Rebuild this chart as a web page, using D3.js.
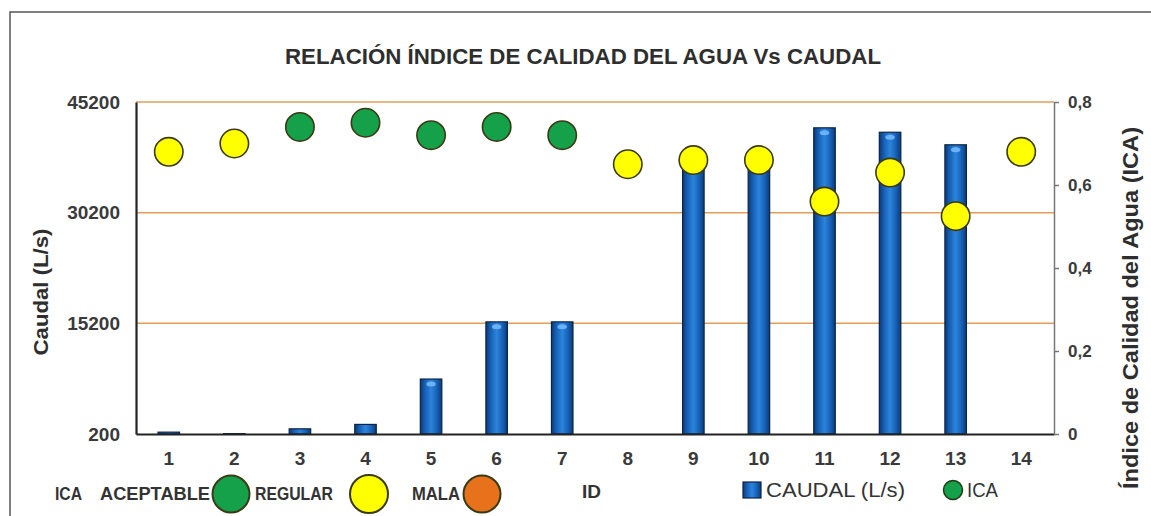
<!DOCTYPE html>
<html><head><meta charset="utf-8">
<script src="https://cdn.jsdelivr.net/npm/d3@7"></script>
<style>
body{margin:0;background:#fff}
svg{display:block}
text{font-family:"Liberation Sans",Arial,sans-serif}
</style>
</head><body><svg id="c" width="1151" height="516"></svg>
<script>
// ---- data ----
const ids = ["1","2","3","4","5","6","7","8","9","10","11","12","13","14"];
const caudal = [450, 250, 900, 1500, 7650, 15400, 15400, 200, 37000, 37000, 41700, 41100, 39400, 200];
const ica = [0.68, 0.70, 0.74, 0.75, 0.72, 0.74, 0.72, 0.65, 0.66, 0.66, 0.56, 0.63, 0.525, 0.68];
const icaClass = ["REGULAR","REGULAR","ACEPTABLE","ACEPTABLE","ACEPTABLE","ACEPTABLE","ACEPTABLE","REGULAR","REGULAR","REGULAR","REGULAR","REGULAR","REGULAR","REGULAR"];
const leftTicks = [200, 15200, 30200, 45200];
const rightTicks = [0, 0.2, 0.4, 0.6, 0.8];
const classNames = ["ACEPTABLE","REGULAR","MALA"];
const titleText = "RELACIÓN ÍNDICE DE CALIDAD DEL AGUA Vs CAUDAL";

// ---- styles ----
const classColor = d3.scaleOrdinal().domain(classNames).range(["#15a04a","#ffff00","#e8721c"]);
const W = 1151, H = 516;
const L = 136, R = 1054, T = 102, B = 434;

const svg = d3.select("#c");
const defs = svg.append("defs");
const g1 = defs.append("linearGradient").attr("id","barGrad").attr("x1","0").attr("x2","1").attr("y1","0").attr("y2","0");
[["0%","#0b3a78"],["22%","#1760b5"],["50%","#2b84dc"],["78%","#1760b5"],["100%","#0b3a78"]]
  .forEach(s => g1.append("stop").attr("offset", s[0]).attr("stop-color", s[1]));

// border
svg.append("path").attr("d", `M10,${H+5}V12H${W+5}`).attr("fill","none").attr("stroke","#555").attr("stroke-width",1.5);

// title
svg.append("text").attr("x", 285).attr("y", 64).attr("font-size", 22).attr("font-weight","bold")
  .attr("fill","#2e2e2e").attr("textLength", 596).attr("lengthAdjust","spacingAndGlyphs").text(titleText);

// scales
const x = d3.scaleBand().domain(ids).range([L, R]).paddingInner(0.672).paddingOuter(0.336);
const yL = d3.scaleLinear().domain([200, 45200]).range([B, T]);
const yR = d3.scaleLinear().domain([0, 0.8]).range([B, T]);

// gridlines
svg.append("g").selectAll("line").data(leftTicks.filter(d => d > 200)).join("line")
  .attr("x1", L).attr("x2", R).attr("y1", d => yL(d)).attr("y2", d => yL(d))
  .attr("stroke", "#e29d58").attr("stroke-width", 1.5);

// bars
const data = ids.map((id, i) => ({id, q: caudal[i], v: ica[i], c: icaClass[i]}));
const bars = svg.append("g");
bars.selectAll("rect").data(data).join("rect")
  .attr("x", d => x(d.id)).attr("width", x.bandwidth())
  .attr("y", d => yL(d.q)).attr("height", d => B - yL(d.q))
  .attr("fill", "url(#barGrad)").attr("stroke", "#0a2548").attr("stroke-width", 1.2);
bars.selectAll("ellipse").data(data.filter(d => B - yL(d.q) > 12)).join("ellipse")
  .attr("cx", d => x(d.id) + x.bandwidth()/2).attr("cy", d => yL(d.q) + 5)
  .attr("rx", x.bandwidth()*0.22).attr("ry", 2.5).attr("fill", "#7cc0ff").attr("opacity", 0.8);

// left axis
const axL = svg.append("g").attr("transform", `translate(${L},0)`)
  .call(d3.axisLeft(yL).tickValues(leftTicks).tickSize(0).tickPadding(16).tickFormat(d3.format("d")));
axL.select(".domain").attr("stroke", "#222").attr("stroke-width", 2.2);
axL.selectAll("text").attr("font-size", 19).attr("font-weight", "bold").attr("fill", "#3a3a3a")
  .attr("font-family", '"Liberation Sans",Arial,sans-serif');

// bottom axis
const axB = svg.append("g").attr("transform", `translate(0,${B})`)
  .call(d3.axisBottom(x).tickSize(0).tickPadding(18));
axB.select(".domain").attr("stroke", "#222").attr("stroke-width", 2.2);
axB.selectAll("text").attr("font-size", 19).attr("font-weight", "bold").attr("fill", "#3a3a3a")
  .attr("font-family", '"Liberation Sans",Arial,sans-serif');

// right axis
const axR = svg.append("g").attr("transform", `translate(${R},0)`)
  .call(d3.axisRight(yR).tickValues(rightTicks).tickSize(5).tickSizeOuter(0).tickPadding(9)
    .tickFormat(d => d === 0 ? "0" : d3.format(".1f")(d).replace(".", ",")));
axR.select(".domain").attr("stroke", "#777").attr("stroke-width", 1.5);
axR.selectAll("line").attr("stroke", "#777").attr("stroke-width", 1.5);
axR.selectAll("text").attr("font-size", 17).attr("font-weight", "bold").attr("fill", "#3a3a3a")
  .attr("font-family", '"Liberation Sans",Arial,sans-serif');

// ICA dots
svg.append("g").selectAll("circle").data(data).join("circle")
  .attr("cx", d => x(d.id) + x.bandwidth()/2).attr("cy", d => yR(d.v)).attr("r", 14.2)
  .attr("fill", d => classColor(d.c)).attr("stroke", "#3a3a14").attr("stroke-width", 1.6);

// axis titles
svg.append("text").attr("transform", "translate(48,292) rotate(-90)").attr("text-anchor", "middle")
  .attr("font-size", 21).attr("font-weight", "bold").attr("fill", "#2e2e2e")
  .attr("textLength", 127).attr("lengthAdjust", "spacingAndGlyphs").text("Caudal (L/s)");
svg.append("text").attr("transform", "translate(1138,308) rotate(-90)").attr("text-anchor", "middle")
  .attr("font-size", 22).attr("font-weight", "bold").attr("fill", "#2e2e2e")
  .attr("textLength", 362).attr("lengthAdjust", "spacingAndGlyphs").text("Índice de Calidad del Agua  (ICA)");

// left legend (ICA classes)
const lg = svg.append("g").attr("font-weight", "bold").attr("fill", "#333").attr("font-size", 19);
const lgText = [["ICA", 55, 27], ["ACEPTABLE", 100, 110], ["REGULAR", 255, 78], ["MALA", 412, 48]];
lg.selectAll("text").data(lgText).join("text")
  .attr("x", d => d[1]).attr("y", 500).attr("textLength", d => d[2]).attr("lengthAdjust", "spacingAndGlyphs")
  .text(d => d[0]);
const lgDots = [["ACEPTABLE", 231, 18.5], ["REGULAR", 369, 19], ["MALA", 482, 18.5]];
lg.selectAll("circle").data(lgDots).join("circle")
  .attr("cx", d => d[1]).attr("cy", 494).attr("r", d => d[2])
  .attr("fill", d => classColor(d[0])).attr("stroke", "#3a3a14").attr("stroke-width", 2);

// x axis title
svg.append("text").attr("x", 582).attr("y", 498).attr("font-size", 19).attr("font-weight", "bold")
  .attr("fill", "#333").text("ID");

// right legend (series)
svg.append("rect").attr("x", 743).attr("y", 482).attr("width", 18).attr("height", 16)
  .attr("fill", "url(#barGrad)").attr("stroke", "#0a2548").attr("stroke-width", 1.2);
svg.append("text").attr("x", 766).attr("y", 497).attr("font-size", 20).attr("fill", "#333")
  .attr("textLength", 139).attr("lengthAdjust", "spacingAndGlyphs").text("CAUDAL (L/s)");
svg.append("circle").attr("cx", 953).attr("cy", 490).attr("r", 9.5)
  .attr("fill", classColor("ACEPTABLE")).attr("stroke", "#1a3a14").attr("stroke-width", 1.5);
svg.append("text").attr("x", 967).attr("y", 497).attr("font-size", 20).attr("fill", "#333")
  .attr("textLength", 31).attr("lengthAdjust", "spacingAndGlyphs").text("ICA");
</script>
</body></html>
